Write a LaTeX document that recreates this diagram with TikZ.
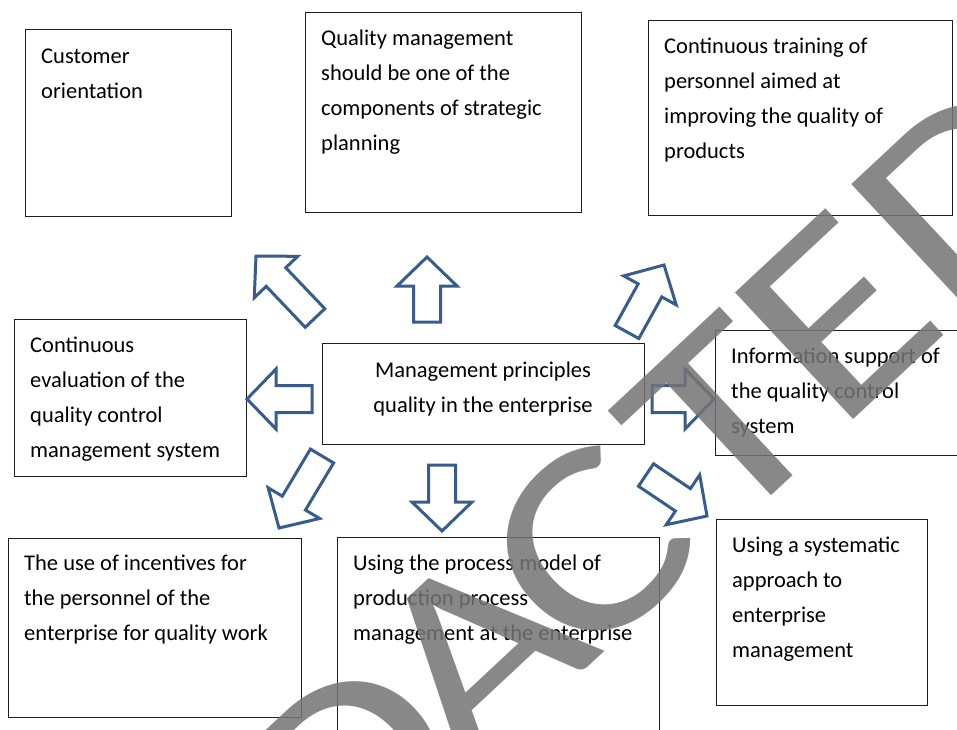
\documentclass[tikz,border=0pt]{standalone}
\usepackage{fontspec}
\setmainfont{Carlito}
\usetikzlibrary{calc}

\definecolor{arrowblue}{RGB}{56,93,138}
\definecolor{boxline}{RGB}{30,30,30}
\definecolor{markgray}{RGB}{117,117,117}

% outlined block arrow from a tail coordinate to a tip coordinate
\newcommand\blockarrow[2]{%
  \coordinate (ba-h) at ($(#2)!29pt!(#1)$);
  \draw[blockarr]
    ($(#1)!13.5pt!90:(#2)$) -- ($(ba-h)!13.5pt!90:(#2)$) --
    ($(ba-h)!30pt!90:(#2)$) -- (#2) --
    ($(ba-h)!30pt!-90:(#2)$) -- ($(ba-h)!13.5pt!-90:(#2)$) --
    ($(#1)!13.5pt!-90:(#2)$) -- cycle;}

\tikzset{
  box/.style={draw=boxline, line width=1.3pt, fill=white, rectangle,
    inner sep=0pt, anchor=north west},
  txt/.style={anchor=north west, align=left, inner sep=0pt,
    font=\fontsize{22.5}{35}\selectfont},
  ctxt/.style={anchor=north, align=center, inner sep=0pt,
    font=\fontsize{22.5}{35}\selectfont},
  blockarr/.style={draw=arrowblue, fill=white, line width=3pt,
    line join=miter},
  stampletter/.style={text=markgray, text opacity=0.86, inner sep=0pt,
    font=\fontsize{270}{270}\selectfont, transform shape,
    xscale=1.22, anchor=base west},
}

\begin{document}
\begin{tikzpicture}[x=1pt, y=-1pt]
\useasboundingbox (0,0) rectangle (957,729);
\clip (0,0) rectangle (957,729);
\fill[white] (0,0) rectangle (957,729);

% boxes
\node[box, minimum width=206pt, minimum height=187pt] (cust) at (25,29) {};
\node[box, minimum width=276pt, minimum height=200pt] (strat) at (305,12) {};
\node[box, minimum width=304pt, minimum height=195pt] (train) at (648,20) {};
\node[box, minimum width=232pt, minimum height=157pt] (eval) at (14,319) {};
\node[box, minimum width=322pt, minimum height=101pt] (core) at (322,343) {};
\node[box, minimum width=260pt, minimum height=125pt] (info) at (715,330) {};
\node[box, minimum width=293pt, minimum height=179pt] (incent) at (8,538) {};
\node[box, minimum width=322pt, minimum height=210pt] (procm) at (337,537) {};
\node[box, minimum width=211pt, minimum height=186pt] (syst) at (716,519) {};

% box texts (first baseline = top + strut height)
\node[txt] (cust-t) at (41,38.5) {\strut Customer\\orientation};
\node[txt] (strat-t) at (321,20.5) {\strut Quality management\\should be one of the\\components of strategic\\planning};
\node[txt] (train-t) at (664,28.5) {\strut Continuous training of\\personnel aimed at\\improving the quality of\\products};
\node[txt] (eval-t) at (30,327.5) {\strut Continuous\\evaluation of the\\quality control\\management system};
\node[ctxt] (core-t) at (483,352.5) {\strut Management principles\\quality in the enterprise};
\node[txt] (info-t) at (731,338.5) {\strut Information support of\\the quality control\\system};
\node[txt] (incent-t) at (24,546) {\strut The use of incentives for\\the personnel of the\\enterprise for quality work};
\node[txt] (procm-t) at (353,545.5) {\strut Using the process model of\\production process\\management at the enterprise};
\node[txt] (syst-t) at (732,527.5) {\strut Using a systematic\\approach to\\enterprise\\management};

% block arrows around the central box
\coordinate (a1s) at (315,318); \coordinate (a1e) at (256,256);
\coordinate (a2s) at (427,322); \coordinate (a2e) at (427,257);
\coordinate (a3s) at (627,332); \coordinate (a3e) at (664,265);
\coordinate (a4s) at (312,399); \coordinate (a4e) at (247,399);
\coordinate (a5s) at (652,399); \coordinate (a5e) at (714,399);
\coordinate (a6s) at (322,456); \coordinate (a6e) at (279,528);
\coordinate (a7s) at (442,465); \coordinate (a7e) at (442,531);
\coordinate (a8s) at (646,475); \coordinate (a8e) at (707,516);
\blockarrow{a1s}{a1e}
\blockarrow{a2s}{a2e}
\blockarrow{a3s}{a3e}
\blockarrow{a4s}{a4e}
\blockarrow{a5s}{a5e}
\blockarrow{a6s}{a6e}
\blockarrow{a7s}{a7e}
\blockarrow{a8s}{a8e}

% diagonal stamp over the page, set letter by letter along its baseline
\begin{scope}[rotate=43]
  \node[stampletter] (st-r1) at (-712,889) {R};
  \node[stampletter] (st-e1) at (-533,889) {E};
  \node[stampletter] (st-d1) at (-372,889) {D};
  \node[stampletter] (st-a)  at (-192,889) {A};
  \node[stampletter] (st-c)  at (-32,889)  {C};
  \node[stampletter] (st-t)  at (160,889)  {T};
  \node[stampletter] (st-e2) at (314,889)  {E};
  \node[stampletter] (st-d2) at (475,889)  {D};
\end{scope}
\end{tikzpicture}
\end{document}
